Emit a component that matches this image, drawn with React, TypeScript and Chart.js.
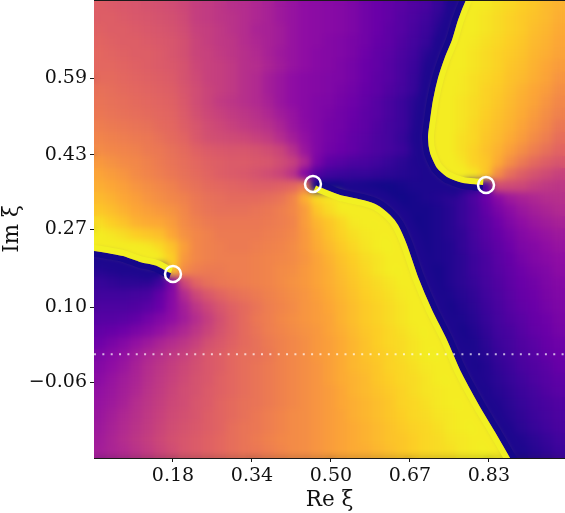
import { useEffect, useRef } from "react";
import { Chart, registerables } from "chart.js";

Chart.register(...registerables);

const xTicks = [0.18, 0.3425, 0.505, 0.6675, 0.83];
const xTickLabels = ["0.18", "0.34", "0.50", "0.67", "0.83"];
const yTicks = [-0.06, 0.1, 0.2667, 0.4267, 0.59];
const yTickLabels = ["\u22120.06", "0.10", "0.27", "0.43", "0.59"];
const xRange = [0.0175, 0.9866];
const yRange = [-0.2216, 0.757];
const zeroRe = [0.18, 0.468, 0.8241];
const zeroIm = [0.1715, 0.364, 0.3617];

// branch cuts
const cutARe = [-0.0113, 0.0175, 0.0504, 0.0772, 0.1121, 0.1471, 0.1698, 0.1759];
const cutAIm = [0.2218, 0.2207, 0.2153, 0.21, 0.1974, 0.1886, 0.1758, 0.1737];
const cutBRe = [0.4743, 0.4866, 0.5237, 0.571, 0.6, 0.6266, 0.643, 0.6615, 0.6842, 0.713, 0.7438, 0.7706, 0.8117, 0.8426, 0.8735, 0.8941];
const cutBIm = [0.3606, 0.3553, 0.3403, 0.3296, 0.319, 0.2976, 0.2762, 0.2335, 0.1651, 0.0946, 0.0305, -0.0336, -0.1127, -0.1661, -0.2216, -0.258];
const cutCRe = [0.7953, 0.7829, 0.7665, 0.7541, 0.7397, 0.7253, 0.715, 0.7089, 0.7047, 0.7089, 0.7233, 0.7438, 0.7767, 0.8056, 0.8179];
const cutCIm = [0.7784, 0.757, 0.7143, 0.6715, 0.6352, 0.5903, 0.5433, 0.5006, 0.4643, 0.4301, 0.398, 0.3788, 0.366, 0.3628, 0.3617];

// phase, in percent of the colour scale (top row first)
const phaseRows: number[][] = [
[58,57,56,55,54,53,52,50,47,46,44,42,41,39,37,34,32,30,29,28,27,25,22,20,18,16,14,12,8,5,2,98,96,94,92,90,88,85,83],
[58,58,57,56,55,54,53,51,47,46,44,43,41,39,37,34,32,30,29,28,27,25,22,20,18,15,13,10,7,4,99,97,95,93,91,89,87,85,82],
[59,58,58,57,56,55,54,52,48,47,45,43,41,38,37,35,32,30,29,28,27,25,22,20,17,15,12,9,6,2,99,97,95,93,91,89,86,84,81],
[60,59,58,58,57,56,55,53,49,47,45,44,41,39,37,35,32,30,29,27,26,24,22,19,17,14,11,8,4,99,98,96,94,92,90,88,85,83,80],
[61,60,59,58,58,57,55,53,49,48,46,44,42,40,37,34,32,30,28,27,26,24,21,18,16,13,10,6,3,99,97,95,93,91,89,87,84,82,79],
[61,61,60,59,58,57,56,54,50,48,47,45,42,41,38,35,32,30,28,27,25,23,20,18,15,12,9,5,2,99,97,95,93,91,88,86,83,80,77],
[62,62,61,60,59,58,57,54,51,48,47,45,42,40,36,33,30,28,27,26,25,23,20,17,15,12,8,5,2,99,96,94,92,90,87,85,82,79,75],
[64,63,62,61,60,59,58,55,52,49,47,45,42,40,36,33,30,28,27,26,24,22,19,17,14,11,8,4,98,97,96,94,91,89,86,83,80,77,73],
[65,64,63,62,61,60,59,56,52,49,46,44,42,40,37,33,30,28,26,25,23,21,18,15,12,9,6,3,98,97,95,93,91,88,85,82,79,75,71],
[66,65,64,63,62,61,60,57,53,50,48,46,44,42,39,35,32,28,26,24,22,20,17,15,12,9,6,3,98,97,95,93,90,87,84,81,77,73,69],
[68,67,66,65,64,62,61,58,55,52,50,48,46,44,42,38,33,29,26,23,22,19,17,14,11,9,6,3,98,97,95,92,89,86,83,79,75,71,66],
[70,69,68,67,66,64,62,60,56,53,52,51,50,48,46,41,36,31,26,23,21,18,16,13,11,8,5,2,98,97,94,92,88,85,81,77,72,68,63],
[72,71,70,69,67,66,64,62,59,57,56,55,55,54,52,49,42,33,26,22,20,18,15,13,11,9,6,3,99,97,94,91,87,83,78,73,68,64,60],
[76,74,72,71,69,67,65,63,61,59,58,57,57,56,55,52,48,39,24,17,15,13,12,10,8,6,4,2,99,98,95,91,88,81,73,67,62,58,55],
[79,77,75,72,70,68,66,64,62,60,58,57,56,54,52,49,43,27,14,10,9,8,8,7,6,5,4,3,2,98,98,95,88,72,63,58,54,51,48],
[82,80,78,75,73,71,69,66,64,62,61,60,59,58,58,59,61,68,0,1,1,1,1,1,1,2,3,3,3,3,4,5,12,52,51,50,47,45,44],
[85,83,80,78,75,73,71,69,66,64,63,62,62,62,63,65,70,82,92,95,97,99,1,1,1,1,2,3,4,6,8,13,20,28,34,37,39,41,42],
[88,86,83,80,78,76,74,71,67,65,64,64,64,65,66,68,71,77,88,93,96,98,99,99,1,1,2,2,3,5,8,12,18,24,29,33,36,38,40],
[93,90,87,83,81,80,77,72,69,67,66,66,66,66,67,68,70,77,84,88,92,96,97,98,99,1,1,2,3,5,8,12,16,21,26,30,33,35,37],
[97,95,93,90,88,86,80,74,71,69,67,67,67,67,68,69,71,76,82,87,91,94,96,97,98,99,1,2,3,5,7,11,15,19,23,27,30,32,34],
[99,99,98,97,95,92,87,78,71,69,68,67,67,68,69,70,72,76,81,85,89,92,95,97,98,99,1,2,3,4,7,10,14,17,21,25,27,30,32],
[2,1,1,99,98,95,90,76,71,69,68,68,68,69,70,71,72,75,79,83,87,90,93,95,97,98,1,2,3,4,6,9,12,16,19,23,26,28,30],
[5,4,3,2,1,1,88,72,68,67,67,68,68,69,70,72,73,76,79,82,86,89,92,95,97,98,99,1,2,4,6,9,12,15,18,21,24,26,29],
[8,7,6,6,7,10,25,50,60,64,66,67,68,69,70,72,74,76,79,82,85,88,91,93,95,97,99,1,2,4,6,8,11,14,17,20,22,25,27],
[10,10,10,11,12,18,27,40,50,56,60,63,65,67,69,71,73,75,78,81,84,87,90,92,94,96,98,99,1,3,5,7,10,13,16,19,21,24,26],
[13,13,13,14,16,20,28,36,44,50,55,59,62,65,68,70,72,75,77,80,83,86,89,91,93,95,97,99,1,2,4,6,9,12,15,18,20,23,25],
[15,15,16,18,22,26,30,35,41,47,53,58,62,66,68,71,73,75,77,79,83,86,89,91,93,95,97,98,1,2,3,5,8,11,14,16,19,21,24],
[18,19,21,24,27,31,35,39,44,49,54,58,62,65,68,70,72,74,76,79,82,85,88,90,92,94,96,98,99,1,2,4,7,10,12,15,18,20,23],
[21,24,27,31,34,38,41,44,48,53,56,59,62,64,67,69,71,73,76,78,81,84,87,90,92,93,95,97,99,1,2,3,6,9,11,14,16,19,21],
[25,28,31,35,39,42,45,48,52,56,58,61,63,64,66,69,71,73,76,78,81,84,87,89,91,93,95,97,98,99,1,3,5,8,10,13,15,18,20],
[27,30,33,37,41,44,47,50,53,56,58,61,63,65,67,69,71,73,75,78,81,84,86,88,91,92,94,96,97,99,1,2,4,7,9,12,14,16,19],
[29,32,35,38,42,45,48,51,54,56,59,61,63,65,67,69,71,73,75,78,81,83,85,88,90,92,93,95,97,98,99,2,4,6,8,10,13,15,17],
[31,33,36,39,43,46,49,52,54,57,59,61,63,65,67,69,71,73,75,77,80,83,85,87,89,91,93,95,96,97,99,1,3,5,7,9,11,14,16],
[32,34,37,41,44,47,50,52,55,57,60,62,64,65,67,69,71,73,75,77,80,82,84,86,88,91,92,94,96,97,98,99,2,4,6,8,10,12,14],
[33,36,39,42,45,48,51,53,55,58,60,62,64,66,68,70,72,73,75,77,79,82,84,86,88,90,92,93,95,96,97,99,1,3,5,7,9,11,13],
[34,37,40,43,46,49,52,54,56,58,60,63,65,66,68,70,72,73,75,77,79,81,83,85,87,89,91,92,94,96,97,98,99,2,4,6,8,10,12],
[35,38,41,44,47,50,53,55,57,59,61,63,65,67,69,71,72,73,75,77,79,81,83,85,87,88,90,92,93,95,96,97,98,99,2,4,6,8,10],
[36,38,40,43,46,49,52,55,57,59,61,63,65,66,68,70,72,73,75,77,79,81,82,84,86,88,90,92,93,94,96,97,98,99,1,3,5,7,9],
];

const plasmaStops = [
  [13, 8, 135], [65, 4, 157], [106, 0, 168], [143, 13, 164], [177, 42, 144], [204, 71, 120],
  [225, 100, 98], [241, 132, 75], [252, 166, 54], [252, 206, 37], [240, 249, 33],
];

function plasma(p: number): string {
  const t = Math.min(Math.max(p / 100, 0), 1) * 10;
  const i = Math.min(Math.floor(t), 9);
  const f = t - i;
  const c = plasmaStops[i].map((v, k) => Math.round(v + (plasmaStops[i + 1][k] - v) * f));
  return `rgb(${c[0]},${c[1]},${c[2]})`;
}

const ink = "#1a1a1a";
const serif = "'DejaVu Serif', serif";
const pxPerRe = 486;
const pxPerIm = 468;

// one side of a branch cut, as a line running alongside it
function stripSide(re: number[], im: number[], side: number, d: number) {
  return re.map((x, i) => {
    const a = Math.max(i - 1, 0);
    const b = Math.min(i + 1, re.length - 1);
    const tx = (re[b] - re[a]) * pxPerRe;
    const ty = -(im[b] - im[a]) * pxPerIm;
    const len = Math.hypot(tx, ty) || 1;
    const nx = (ty / len) * side;
    const ny = (-tx / len) * side;
    return { x: x + (nx * d) / pxPerRe, y: im[i] - (ny * d) / pxPerIm };
  });
}

function strip(label: string, data: { x: number; y: number }[], color: string, width: number, order: number) {
  return {
    label,
    type: "line",
    data,
    order,
    borderColor: color,
    borderWidth: width,
    borderCapStyle: "butt",
    borderJoinStyle: "round",
    tension: 0.2,
    pointRadius: 0,
  };
}

export default function App() {
  const ref = useRef<HTMLCanvasElement | null>(null);
  useEffect(() => {
    if (!ref.current) return;
    const nRows = phaseRows.length;
    const cells: { x: number; y: number; c: string }[] = [];
    phaseRows.forEach((row, r) => {
      row.forEach((p, q) => {
        cells.push({
          x: xRange[0] + ((q + 0.5) * (xRange[1] - xRange[0])) / row.length,
          y: yRange[1] - ((r + 0.5) * (yRange[1] - yRange[0])) / nRows,
          c: plasma(p),
        });
      });
    });
    const hiW = plasma(97);
    const loW = plasma(3);
    const hiN = plasma(98);
    const loN = plasma(1.5);
    const narrow = (w: number, o: number) => [
      strip("cut A high", stripSide(cutARe, cutAIm, 1, w / 2), hiN, w, o),
      strip("cut A low", stripSide(cutARe, cutAIm, -1, w / 2), loN, w, o),
      strip("cut B high", stripSide(cutBRe, cutBIm, -1, w / 2), hiN, w, o),
      strip("cut B low", stripSide(cutBRe, cutBIm, 1, w / 2), loN, w, o),
      strip("cut C high", stripSide(cutCRe, cutCIm, 1, w / 2), hiN, w, o),
      strip("cut C low", stripSide(cutCRe, cutCIm, -1, w / 2), loN, w, o),
    ];
    const wide = (w: number, o: number) => [
      strip("cut A high wide", stripSide(cutARe.slice(0, -2), cutAIm.slice(0, -2), 1, w / 2), hiW, w, o),
      strip("cut A low wide", stripSide(cutARe.slice(0, -2), cutAIm.slice(0, -2), -1, w / 2), loW, w, o),
      strip("cut B high wide", stripSide(cutBRe.slice(2), cutBIm.slice(2), -1, w / 2), hiW, w, o),
      strip("cut B low wide", stripSide(cutBRe.slice(2), cutBIm.slice(2), 1, w / 2), loW, w, o),
      strip("cut C high wide", stripSide(cutCRe.slice(0, -2), cutCIm.slice(0, -2), 1, w / 2), hiW, w, o),
      strip("cut C low wide", stripSide(cutCRe.slice(0, -2), cutCIm.slice(0, -2), -1, w / 2), loW, w, o),
    ];
    const head: any[] = [
      {
        label: "zeros",
        data: zeroRe.map((x, i) => ({ x, y: zeroIm[i] })),
        order: 1,
        pointStyle: "circle",
        pointRadius: 8,
        pointBorderWidth: 2.5,
        pointBorderColor: "#ffffff",
        pointBackgroundColor: "rgba(0,0,0,0)",
        showLine: false,
      },
      {
        label: "real axis",
        type: "line",
        data: [{ x: xRange[0], y: 0 }, { x: xRange[1], y: 0 }],
        order: 2,
        borderColor: "rgba(255,255,255,0.7)",
        borderWidth: 2,
        borderDash: [2, 6.35],
        pointRadius: 0,
      },
      ...narrow(6, 3),
    ];
    const blurIndex = head.length;
    const datasets: any[] = [
      ...head,
      ...wide(16, 4),
      {
        label: "phase",
        data: cells,
        order: 5,
        pointStyle: "rect",
        pointRadius: 8.8,
        pointBorderWidth: 1,
        pointBackgroundColor: cells.map((d) => d.c),
        pointBorderColor: cells.map((d) => d.c),
        showLine: false,
      },
    ];
    const chart = new Chart(ref.current, {
      type: "scatter",
      data: { datasets } as any,
      plugins: [
        {
          id: "soften",
          afterDatasetDraw(c: any, args: any) {
            if (args.index !== blurIndex) return;
            const { left, top, width, height } = c.chartArea;
            const ctx = c.ctx;
            ctx.save();
            ctx.beginPath();
            ctx.rect(left, top, width, height);
            ctx.clip();
            ctx.filter = "blur(3.5px)";
            ctx.drawImage(ctx.canvas, 0, 0);
            ctx.restore();
          },
        },
        {
          id: "frame",
          afterDraw(c: any) {
            const { left, top, width } = c.chartArea;
            c.ctx.save();
            c.ctx.strokeStyle = ink;
            c.ctx.lineWidth = 1;
            c.ctx.beginPath();
            c.ctx.moveTo(left, top + 0.5);
            c.ctx.lineTo(left + width, top + 0.5);
            c.ctx.stroke();
            c.ctx.restore();
          },
        },
      ],
      options: {
        animation: false,
        responsive: false,
        layout: { autoPadding: false, padding: 0 },
        plugins: { legend: { display: false }, tooltip: { enabled: false } },
        scales: {
          x: {
            type: "linear",
            min: xRange[0],
            max: xRange[1],
            afterBuildTicks: (s: any) => {
              s.ticks = xTicks.map((value) => ({ value }));
            },
            afterFit: (s: any) => {
              s.height = 55;
              s.paddingLeft = 0;
              s.paddingRight = 0;
            },
            grid: { drawOnChartArea: false, tickLength: 4, tickColor: ink },
            border: { color: ink },
            ticks: {
              autoSkip: false,
              maxRotation: 0,
              padding: 3,
              color: "#111",
              font: { family: serif, size: 19 },
              callback: (_v: any, i: number) => xTickLabels[i],
            },
            title: { display: true, text: "Re \u03BE", color: "#111", font: { family: serif, size: 21.5 }, padding: { top: 2, bottom: 0 } },
          },
          y: {
            type: "linear",
            min: yRange[0],
            max: yRange[1],
            afterBuildTicks: (s: any) => {
              s.ticks = yTicks.map((value) => ({ value }));
            },
            afterFit: (s: any) => {
              s.width = 94;
              s.paddingTop = 0;
              s.paddingBottom = 0;
            },
            grid: { drawOnChartArea: false, tickLength: 4, tickColor: ink },
            border: { color: ink },
            ticks: {
              autoSkip: false,
              padding: 3,
              color: "#111",
              font: { family: serif, size: 19 },
              callback: (_v: any, i: number) => yTickLabels[i],
            },
            title: { display: true, text: "Im \u03BE", color: "#111", font: { family: serif, size: 21.5 }, padding: { top: 0, bottom: 0 } },
          },
        },
      } as any,
    });
    return () => chart.destroy();
  }, []);
  return (
    <div style={{ position: "absolute", left: 0, top: 0 }}>
      <canvas ref={ref} width={565} height={513} style={{ display: "block" }} />
    </div>
  );
}
